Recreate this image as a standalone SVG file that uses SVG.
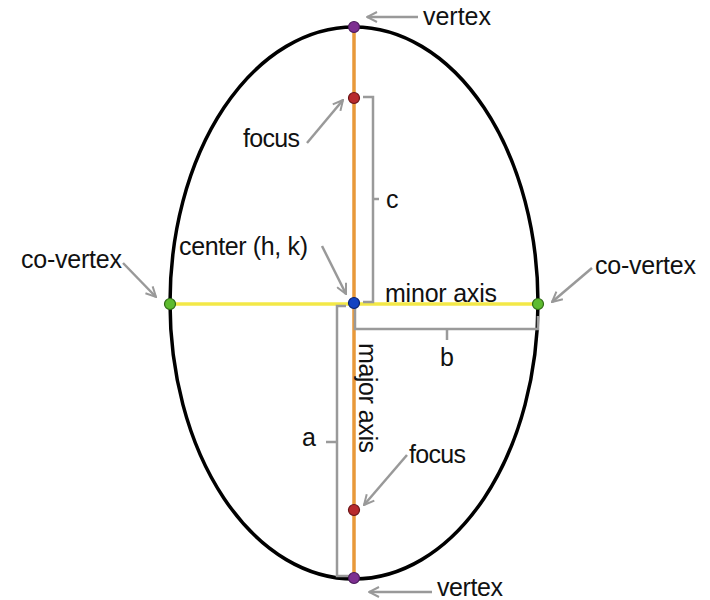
<svg xmlns="http://www.w3.org/2000/svg" width="710" height="600" viewBox="0 0 710 600">
<defs>
<marker id="ah" viewBox="0 0 12 12" refX="11" refY="6" markerWidth="12" markerHeight="12" markerUnits="userSpaceOnUse" orient="auto">
<path d="M1,1 L11,6 L1,11" fill="none" stroke="#999" stroke-width="2"/>
</marker>
<style>
.lbl{font-family:"Liberation Sans",Arial,sans-serif;font-size:25px;fill:#111}
.arr{stroke:#999;stroke-width:2.5;fill:none;marker-end:url(#ah)}
.brk{stroke:#9a9a9a;stroke-width:2.5;fill:none}
.pt{stroke-width:1.2}
</style>
</defs>
<rect width="710" height="600" fill="#fff"/>
<g id="ellipse">
<ellipse cx="354" cy="303" rx="184" ry="276" fill="none" stroke="#000" stroke-width="3.5"/>
</g>
<g id="axes">
<line x1="170" y1="304" x2="538" y2="304" stroke="#F3E847" stroke-width="3.5"/>
<line x1="354" y1="27" x2="354" y2="578" stroke="#E8993A" stroke-width="3.5"/>
</g>
<g id="brackets">
<path class="brk" d="M363,97 H373 V302 H363 M373,199 H379"/>
<path class="brk" d="M355,306 V329 H538 V316 M447,329 V340"/>
<path class="brk" d="M346,306 H337 V576 H352 M337,442 H326"/>
</g>
<g id="connectors">
<line class="arr" x1="418" y1="17" x2="367" y2="17"/>
<line class="arr" x1="307" y1="143" x2="343" y2="100"/>
<line class="arr" x1="322" y1="246" x2="346" y2="294"/>
<line class="arr" x1="123" y1="263" x2="156" y2="297"/>
<line class="arr" x1="592" y1="268" x2="552" y2="302"/>
<line class="arr" x1="407" y1="455" x2="364" y2="505"/>
<line class="arr" x1="432" y1="592" x2="369" y2="592"/>
</g>
<g id="vertex-top"><circle class="pt" cx="354" cy="27" r="5.5" fill="#7D2F91" stroke="#4a1a5a"/><text class="lbl" x="423" y="25" textLength="68">vertex</text></g>
<g id="focus-top"><circle class="pt" cx="354" cy="98" r="5.5" fill="#B8292C" stroke="#6a1518"/><text class="lbl" x="243" y="147" textLength="57">focus</text></g>
<g id="center"><circle class="pt" cx="354" cy="303" r="5.5" fill="#1343C2" stroke="#0a2270"/><text class="lbl" x="179" y="255" textLength="129">center (h, k)</text></g>
<g id="covertex-left"><circle class="pt" cx="170" cy="304" r="5.5" fill="#5EBB2F" stroke="#2f6a15"/><text class="lbl" x="21" y="268" textLength="101">co-vertex</text></g>
<g id="covertex-right"><circle class="pt" cx="538" cy="304" r="5.5" fill="#5EBB2F" stroke="#2f6a15"/><text class="lbl" x="595" y="274" textLength="101">co-vertex</text></g>
<g id="focus-bottom"><circle class="pt" cx="354" cy="510" r="5.5" fill="#B8292C" stroke="#6a1518"/><text class="lbl" x="409" y="463" textLength="57">focus</text></g>
<g id="vertex-bottom"><circle class="pt" cx="354" cy="578" r="5.5" fill="#7D2F91" stroke="#4a1a5a"/><text class="lbl" x="437" y="596" textLength="66">vertex</text></g>
<g id="labels">
<text class="lbl" x="385" y="302" textLength="112">minor axis</text>
<text class="lbl" transform="translate(359,343) rotate(90)" textLength="110">major axis</text>
<text class="lbl" x="386" y="208">c</text>
<text class="lbl" x="440" y="366">b</text>
<text class="lbl" x="302" y="446">a</text>
</g>
</svg>
